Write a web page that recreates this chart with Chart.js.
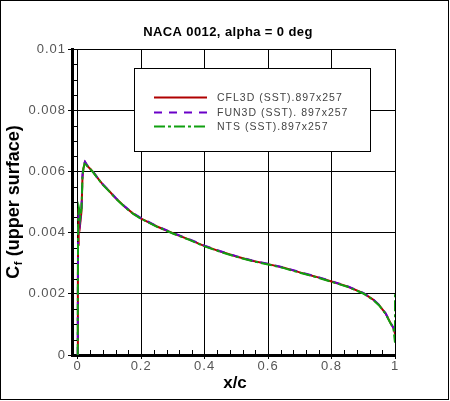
<!DOCTYPE html>
<html>
<head>
<meta charset="utf-8">
<script src="https://cdn.jsdelivr.net/npm/chart.js@4/dist/chart.umd.min.js"></script>
<style>
  html, body { margin: 0; padding: 0; background: #fff; }
  canvas { display: block; }
</style>
</head>
<body>
<canvas id="Chart" width="450" height="401"></canvas>
<script>
// chordwise stations (x/c), shared by the three codes
const xPos = [0, 0.0005, 0.001, 0.002, 0.004, 0.006, 0.008, 0.012, 0.015, 0.018,
  0.023, 0.03, 0.04, 0.05, 0.06, 0.08, 0.10, 0.12, 0.15, 0.175,
  0.2, 0.25, 0.3, 0.35, 0.4, 0.45, 0.5, 0.55, 0.6, 0.65,
  0.7, 0.75, 0.8, 0.85, 0.9, 0.93, 0.95, 0.97, 0.985, 0.995,
  1.0, 1.0];

// skin friction, upper surface
const cfl3d = [0, 0.0021, 0.0036, 0.0044, 0.0046, 0.0045, 0.0043, 0.0047, 0.0058, 0.0061,
  0.0063, 0.00618, 0.00608, 0.00596, 0.00582, 0.00556, 0.00535, 0.00512, 0.00483, 0.00462,
  0.00446, 0.0042, 0.00398, 0.00378, 0.00356, 0.00338, 0.00322, 0.00308, 0.00297, 0.00285,
  0.0027, 0.00256, 0.0024, 0.00224, 0.00202, 0.00182, 0.00163, 0.00136, 0.00106, 0.00088,
  0.0007, 0.0011];
const fun3d = [0, 0.0020, 0.0035, 0.0044, 0.0047, 0.0046, 0.0044, 0.0048, 0.0059, 0.0062,
  0.00632, 0.0062, 0.00609, 0.00597, 0.00583, 0.00557, 0.00536, 0.00513, 0.00484, 0.00463,
  0.00447, 0.00421, 0.00399, 0.00379, 0.00357, 0.00339, 0.00323, 0.00309, 0.00298, 0.00286,
  0.00271, 0.00257, 0.00241, 0.00225, 0.00203, 0.00183, 0.00164, 0.00137, 0.00107, 0.00089,
  0.0008, 0.001];
const nts = [0, 0.0022, 0.0037, 0.0045, 0.0048, 0.0047, 0.0045, 0.0048, 0.0058, 0.0061,
  0.0063, 0.00617, 0.00607, 0.00595, 0.00581, 0.00555, 0.00534, 0.00511, 0.00482, 0.00461,
  0.00445, 0.00419, 0.00397, 0.00377, 0.00355, 0.00337, 0.00321, 0.00307, 0.00296, 0.00284,
  0.00269, 0.00255, 0.00239, 0.00223, 0.00201, 0.00181, 0.00162, 0.00135, 0.00105, 0.00087,
  0.0004, 0.002];

const seriesLabels = ['CFL3D (SST).897x257', 'FUN3D (SST). 897x257', 'NTS (SST).897x257'];
const seriesColors = ['#b00000', '#6a00c8', '#10a010'];
const seriesDash = [[], [8, 7], [11, 3, 3, 3]];

const xTicks = [0, 0.2, 0.4, 0.6, 0.8, 1];
const xTickLabels = ['0', '0.2', '0.4', '0.6', '0.8', '1'];
const yTicks = [0, 0.002, 0.004, 0.006, 0.008, 0.01];
const yTickLabels = ['0', '0.002', '0.004', '0.006', '0.008', '0.01'];

const ctx = document.getElementById('Chart');

function labelFor(ticks, labels, v) {
  const i = ticks.findIndex(t => Math.abs(t - v) < 1e-9);
  return i < 0 ? '' : labels[i];
}

// title, axis titles, legend box, minor ticks, frame
const decor = {
  id: 'decor',
  beforeDraw(chart) {
    chart.ctx.letterSpacing = '1px';
  },
  beforeDatasetsDraw(chart) {
    const c = chart.ctx;
    c.save();
    // legend box
    c.fillStyle = '#fff';
    c.fillRect(134, 68, 237, 84);
    c.strokeStyle = '#000';
    c.lineWidth = 1;
    c.setLineDash([]);
    c.strokeRect(134.5, 68.5, 236, 83);
    const rows = [97.5, 112.5, 126.5];
    chart.data.datasets.forEach((ds, i) => {
      c.strokeStyle = ds.borderColor;
      c.lineWidth = 2;
      c.setLineDash(ds.borderDash);
      c.beginPath();
      c.moveTo(154, rows[i]);
      c.lineTo(207, rows[i]);
      c.stroke();
      c.setLineDash([]);
      c.fillStyle = '#444';
      c.font = '10.5px "Liberation Sans", Arial, sans-serif';
      c.letterSpacing = '1px';
      c.textAlign = 'left';
      c.textBaseline = 'middle';
      c.fillText(ds.label, 217, rows[i] + 0.5);
    });
    c.restore();
  },
  afterDraw(chart) {
    const c = chart.ctx;
    const xs = chart.scales.x, ys = chart.scales.y;
    const area = chart.chartArea;
    c.save();
    c.letterSpacing = '0px';
    c.strokeStyle = '#000';
    c.lineWidth = 1;
    // minor ticks, pointing inward
    c.beginPath();
    for (let k = 1; k < 20; k++) {
      if (k % 4 === 0) continue;
      const py = Math.round(ys.getPixelForValue(k * 0.0005)) + 0.5;
      c.moveTo(area.left, py);
      c.lineTo(area.left + 5, py);
    }
    for (let k = 1; k < 25; k++) {
      if (k % 5 === 0) continue;
      const px = Math.round(xs.getPixelForValue(k * 0.04)) + 0.5;
      c.moveTo(px, area.bottom);
      c.lineTo(px, area.bottom - 5);
    }
    c.stroke();

    // chart title
    c.fillStyle = '#000';
    c.textAlign = 'center';
    c.textBaseline = 'middle';
    c.font = 'bold 13px "Liberation Sans", Arial, sans-serif';
    c.letterSpacing = '0.4px';
    c.fillText('NACA 0012, alpha = 0 deg', 228, 32);

    // x title
    c.letterSpacing = '0px';
    c.font = 'bold 17px "Liberation Sans", Arial, sans-serif';
    c.fillText('x/c', 235, 383);

    // y title with subscript
    c.save();
    c.translate(13, 202);
    c.rotate(-Math.PI / 2);
    const big = 'bold 18px "Liberation Sans", Arial, sans-serif';
    const small = 'bold 11px "Liberation Sans", Arial, sans-serif';
    const rest = ' (upper surface)';
    c.font = big;
    const wC = c.measureText('C').width, wR = c.measureText(rest).width;
    c.font = small;
    const wF = c.measureText('f').width;
    let x0 = -(wC + wF + 1 + wR) / 2;
    c.textAlign = 'left';
    c.textBaseline = 'alphabetic';
    c.font = big;
    c.fillText('C', x0, 6);
    c.font = small;
    c.fillText('f', x0 + wC + 0.5, 9);
    c.font = big;
    c.fillText(rest, x0 + wC + wF + 1, 6);
    c.restore();

    // outer frame
    c.strokeStyle = '#000';
    c.lineWidth = 1;
    c.strokeRect(0.5, 0.5, 448, 399);
    c.restore();
  }
};

new Chart(ctx, {
  type: 'line',
  data: {
    datasets: [cfl3d, fun3d, nts].map((vals, i) => ({
      label: seriesLabels[i],
      data: vals.map((v, j) => ({ x: xPos[j], y: v })),
      borderColor: seriesColors[i],
      backgroundColor: seriesColors[i],
      borderDash: seriesDash[i],
      borderWidth: 2,
      pointRadius: 0,
      tension: 0,
      fill: false,
      order: 3 - i
    }))
  },
  options: {
    responsive: false,
    animation: false,
    devicePixelRatio: 1,
    layout: { padding: { left: 0, top: 49, right: 55, bottom: 0 } },
    plugins: {
      legend: { display: false },
      tooltip: { enabled: false }
    },
    scales: {
      x: {
        type: 'linear',
        min: -0.018,
        max: 1,
        afterBuildTicks: axis => { axis.ticks = xTicks.map(v => ({ value: v })); },
        afterFit: axis => { axis.height = 46; },
        grid: { color: '#000', lineWidth: 1, tickLength: 4, tickColor: '#000' },
        border: { color: '#000', width: 3 },
        ticks: {
          padding: 0,
          maxRotation: 0,
          autoSkip: false,
          color: '#555',
          font: { family: '"Liberation Sans", Arial, sans-serif', size: 13 },
          callback: v => labelFor(xTicks, xTickLabels, v)
        }
      },
      y: {
        type: 'linear',
        min: 0,
        max: 0.01,
        afterBuildTicks: axis => { axis.ticks = yTicks.map(v => ({ value: v })); },
        afterFit: axis => { axis.width = 72; },
        grid: { color: '#000', lineWidth: 1, tickLength: 4, tickColor: '#000' },
        border: { color: '#000', width: 3 },
        ticks: {
          padding: 2,
          autoSkip: false,
          color: '#555',
          font: { family: '"Liberation Sans", Arial, sans-serif', size: 13 },
          callback: v => labelFor(yTicks, yTickLabels, v)
        }
      }
    }
  },
  plugins: [decor]
});
</script>
</body>
</html>
